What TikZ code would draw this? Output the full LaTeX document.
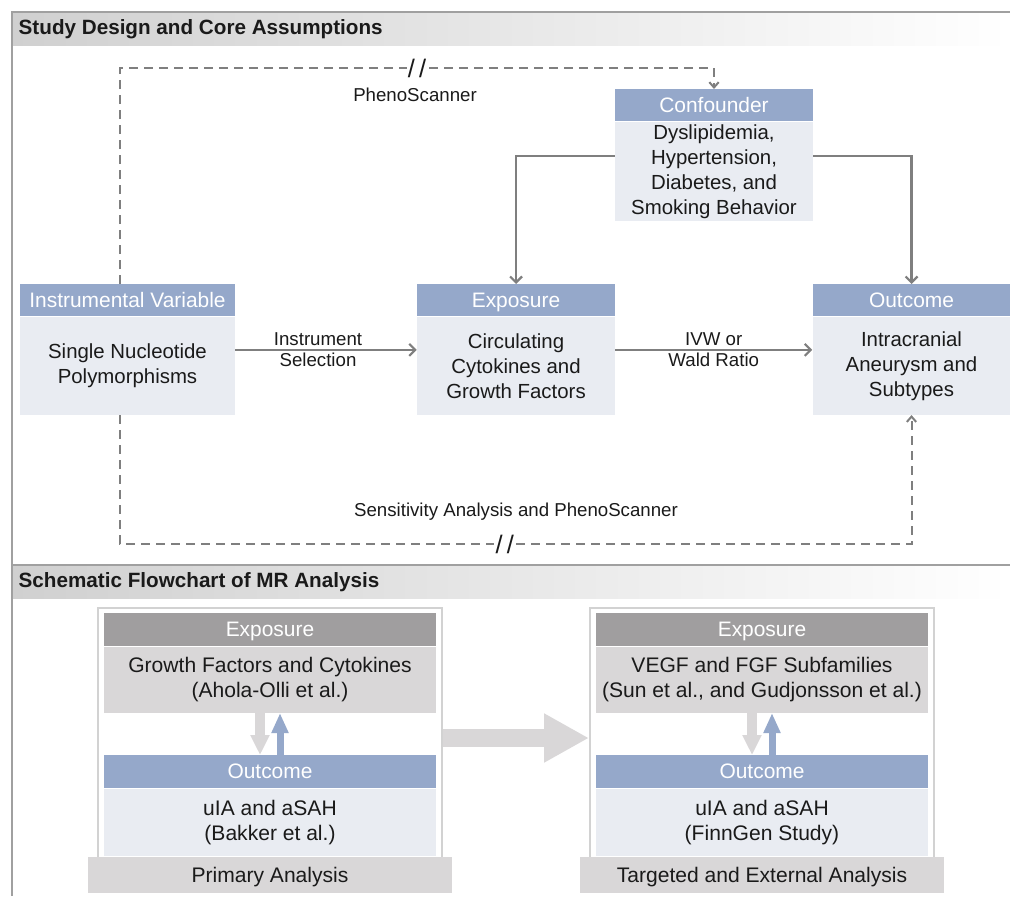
\documentclass[tikz,border=0pt]{standalone}
\usepackage{fontspec}
\setmainfont{Liberation Sans}
\usepackage{xcolor}
\usetikzlibrary{arrows.meta,calc}
\definecolor{HeadBlue}{HTML}{95A8CA}
\definecolor{BodyBlue}{HTML}{E9ECF2}
\definecolor{HeadGray}{HTML}{A09E9F}
\definecolor{BodyGray}{HTML}{D9D7D8}
\definecolor{LineGray}{HTML}{7F7F7F}
\definecolor{FrameGray}{HTML}{D2D2D2}
\definecolor{SecGray}{HTML}{D0D0D0}
\definecolor{RuleGray}{HTML}{A0A0A0}
\definecolor{TextDark}{HTML}{1A1A1A}

\begin{document}
\begin{tikzpicture}[x=0.75pt,y=-0.75pt,
  every node/.style={font=\fontsize{15.3}{18.75}\selectfont, text=TextDark},
  hdr/.style={fill=HeadBlue, text=white, anchor=north, inner sep=0pt, text depth=0.5pt,
              minimum height=24pt, font=\fontsize{15.7}{18}\selectfont},
  bdy/.style={fill=BodyBlue, anchor=north, inner sep=0pt, align=center},
  lbl/.style={align=center, font=\fontsize{14}{15.75}\selectfont},
  sec/.style={anchor=west, font=\fontsize{15.5}{18}\selectfont\bfseries},
  cut/.style={fill=white, inner sep=1pt, font=\fontsize{19}{19}\selectfont},
  ar/.style={draw=LineGray, line width=1.6pt, -{Straight Barb[length=4.5pt,width=9pt]}},
  dsh/.style={draw=LineGray, line width=1.5pt, dash pattern=on 6.75pt off 4.5pt,
              -{Straight Barb[length=4pt,width=7pt]}},
  frm/.style={draw=FrameGray, line width=1.5pt, fill=white, anchor=north,
              minimum width=258pt, minimum height=187.5pt, inner sep=0pt},
  gxh/.style={fill=HeadGray, text=white, anchor=north, inner sep=0pt, text depth=0.5pt,
              minimum width=249pt, minimum height=24.75pt, font=\fontsize{15.7}{18}\selectfont},
  gxb/.style={fill=BodyGray, anchor=north, inner sep=0pt, align=center,
              minimum width=249pt, minimum height=49.5pt, font=\fontsize{15.8}{18.5}\selectfont},
  byh/.style={hdr, minimum width=249pt, minimum height=24.75pt},
  byb/.style={bdy, minimum width=249pt, minimum height=50.25pt, font=\fontsize{15.8}{18.5}\selectfont},
  bar/.style={fill=BodyGray, anchor=north, inner sep=0pt, minimum width=273pt, text depth=0.5pt,
              minimum height=27pt, font=\fontsize{15.8}{18}\selectfont},
  dnar/.style={draw=BodyGray, line width=7.5pt, -{Triangle[length=15pt,width=13.5pt]}},
  upar/.style={draw=HeadBlue, line width=5.25pt, -{Triangle[length=15pt,width=12pt]}},
  bigar/.style={draw=BodyGray, line width=13.5pt, -{Triangle[length=33.75pt,width=34.5pt]}},
]
  \useasboundingbox (0,0) rectangle (1010,896);

  % Section headers
  \shade[left color=SecGray, right color=white] (12,12) rectangle (1010,45);
  \shade[left color=SecGray, right color=white] (12,565) rectangle (1010,598);
  \draw[RuleGray, line width=1.2pt] (12,896) -- (12,12) -- (1010,12);
  \draw[RuleGray, line width=1.2pt] (12,565) -- (1010,565);
  \node[sec] (sec1) at (14,29) {Study Design and Core Assumptions};
  \node[sec] (sec2) at (14,582) {Schematic Flowchart of MR Analysis};

  % Study design
  \node[hdr, minimum width=161.25pt] (ivh) at (127.5,284) {Instrumental Variable};
  \node[bdy, minimum width=161.25pt, minimum height=73.5pt] (ivb) at (ivh.south)
    {Single Nucleotide\\Polymorphisms};
  \node[hdr, minimum width=148.5pt] (exh) at (516,284) {Exposure};
  \node[bdy, minimum width=148.5pt, minimum height=73.5pt] (exb) at (exh.south)
    {Circulating\\Cytokines and\\Growth Factors};
  \node[hdr, minimum width=148.5pt] (oth) at (911.5,284) {Outcome};
  \node[bdy, minimum width=148.5pt, minimum height=73.5pt] (otb) at (oth.south)
    {Intracranial\\Aneurysm and\\Subtypes};
  \node[hdr, minimum width=148.5pt] (cfh) at (714,89) {Confounder};
  \node[bdy, minimum width=148.5pt, minimum height=74.25pt] (cfb) at (cfh.south)
    {Dyslipidemia,\\Hypertension,\\Diabetes, and\\Smoking Behavior};

  \draw[ar] ([yshift=12pt]ivb.east) -- node[lbl, xshift=-6pt]{Instrument\\Selection} ([yshift=12pt]exb.west);
  \draw[ar] ([yshift=12pt]exb.east) -- node[lbl]{IVW or\\Wald Ratio} ([yshift=12pt]otb.west);
  \draw[ar] ([yshift=11.6pt]cfb.west) -| (exh.north);
  \draw[ar] ([yshift=11.6pt]cfb.east) -| (oth.north);

  % Dashed paths
  \draw[dsh] ([xshift=-5.6pt]ivh.north) -- ++(0,-216) -| node[pos=0.25, cut]{/\,/} (cfh.north);
  \node[lbl] (phs) at (415,95) {PhenoScanner};
  \draw[dsh] ([xshift=-5.6pt]ivb.south) -- ++(0,129) -| node[pos=0.243, cut]{/\,/} (otb.south);
  \node[lbl] (sns) at (516,512) {Sensitivity Analysis and PhenoScanner};

  % Flowchart - primary
  \node[frm] (lfr) at (270,607) {};
  \node[gxh] (lxh) at (270,613) {Exposure};
  \node[gxb] (lxb) at (lxh.south) {Growth Factors and Cytokines\\(Ahola-Olli et al.)};
  \node[byh] (lyh) at (270,755) {Outcome};
  \node[byb] (lyb) at (lyh.south) {uIA and aSAH\\(Bakker et al.)};
  \node[bar] (lbar) at (270,857) {Primary Analysis};

  % Flowchart - targeted
  \node[frm] (rfr) at (762,607) {};
  \node[gxh] (rxh) at (762,613) {Exposure};
  \node[gxb] (rxb) at (rxh.south) {VEGF and FGF Subfamilies\\(Sun et al., and Gudjonsson et al.)};
  \node[byh] (ryh) at (762,755) {Outcome};
  \node[byb] (ryb) at (ryh.south) {uIA and aSAH\\(FinnGen Study)};
  \node[bar] (rbar) at (762,857) {Targeted and External Analysis};

  \foreach \p in {l,r} {
    \draw[dnar] ([xshift=-7.5pt]\p xb.south) -- ([xshift=-7.5pt]\p yh.north);
    \draw[upar] ([xshift=7.5pt]\p yh.north) -- ([xshift=7.5pt]\p xb.south);
  }
  \draw[bigar] ([yshift=-3.75pt]lfr.east) -- ([yshift=-3.75pt]rfr.west);
\end{tikzpicture}
\end{document}
